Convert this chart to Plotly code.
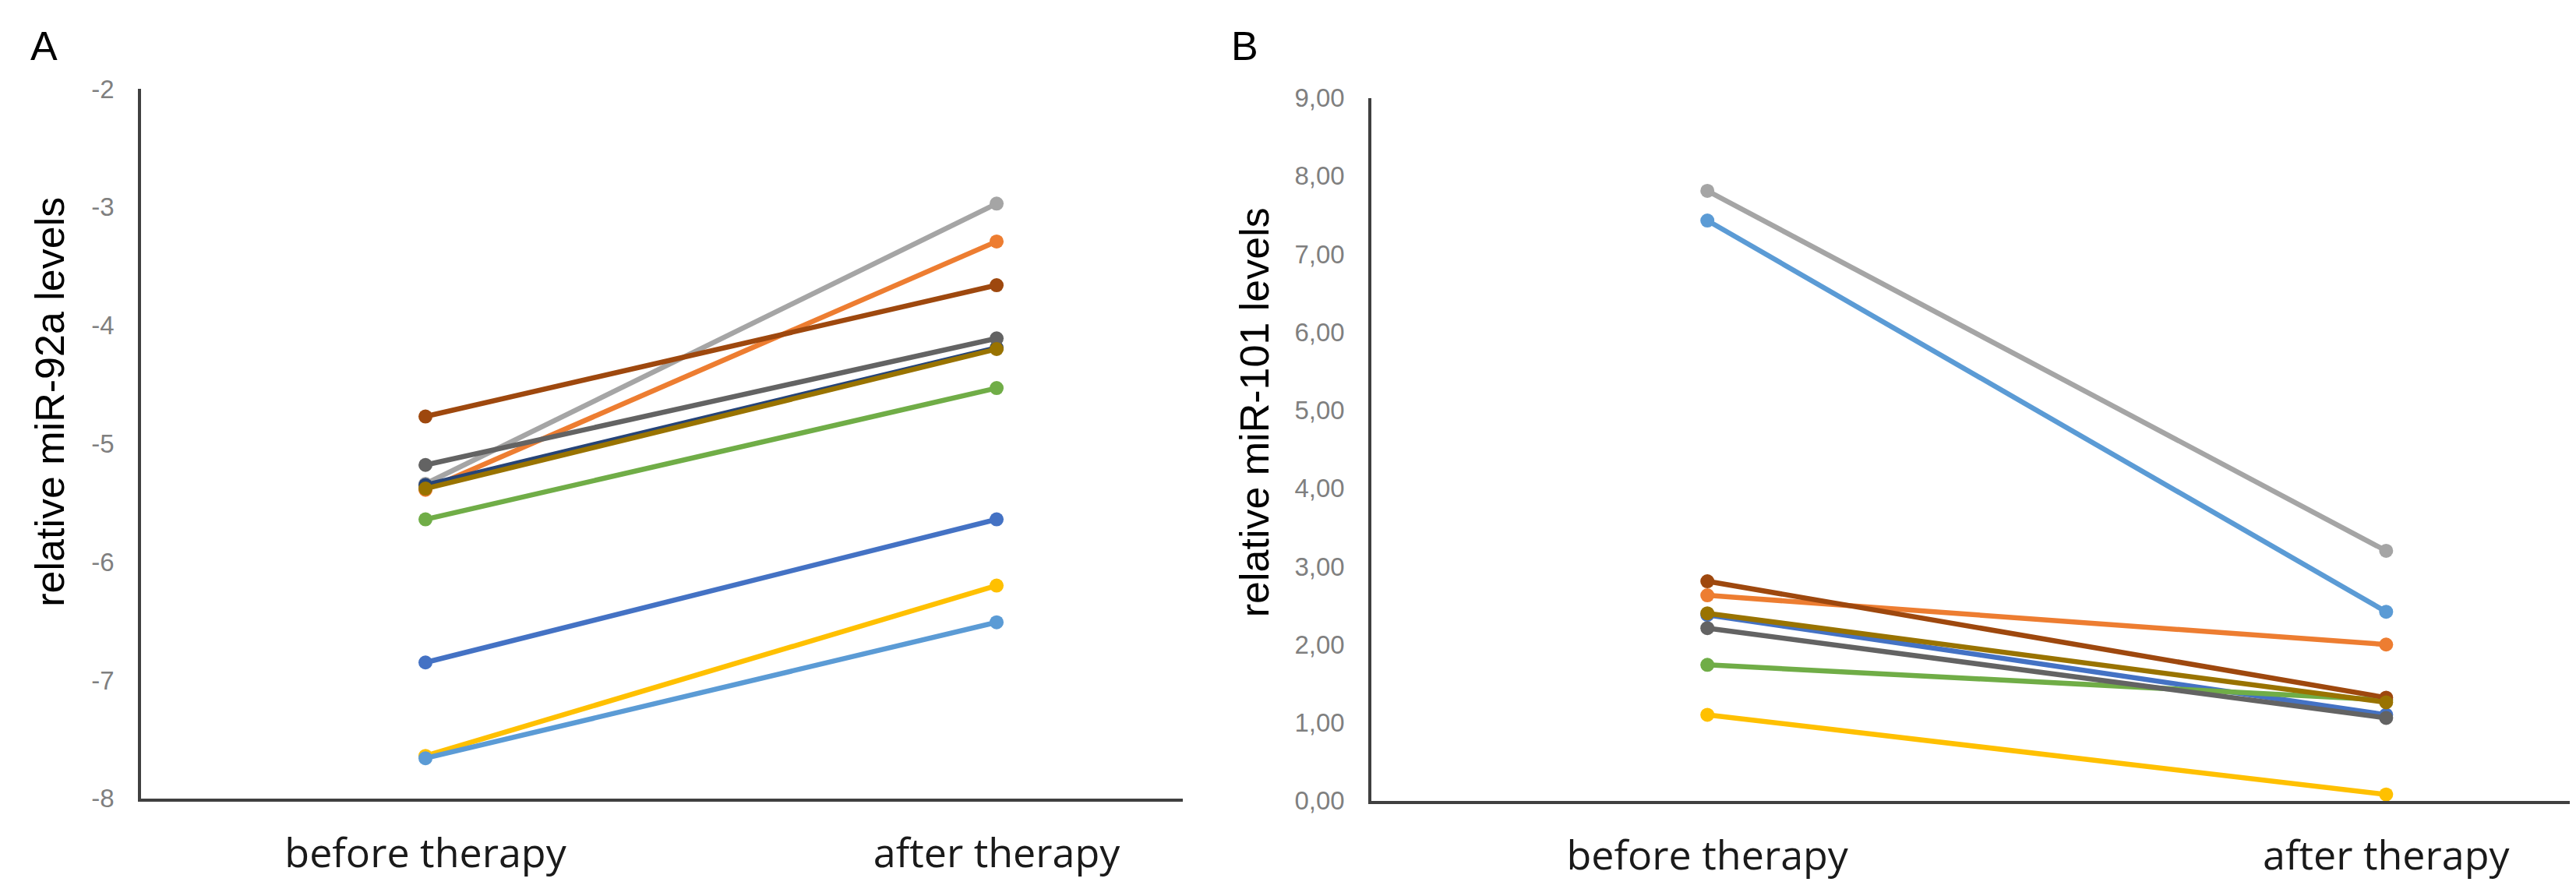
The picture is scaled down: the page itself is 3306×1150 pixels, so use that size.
import plotly.graph_objects as go

# ---------------- data ----------------
categories = ["before therapy", "after therapy"]

# Panel A: relative miR-92a levels (10 patients)
a_colors = ["#4472C4", "#ED7D31", "#A5A5A5", "#FFC000", "#5B9BD5",
            "#70AD47", "#264478", "#9E480E", "#636363", "#997300"]
a_before = [-6.85, -5.39, -5.34, -7.64, -7.66, -5.64, -5.35, -4.77, -5.18, -5.38]
a_after  = [-5.64, -3.29, -2.97, -6.20, -6.51, -4.53, -4.19, -3.66, -4.11, -4.20]

# Panel B: relative miR-101 levels (9 patients)
b_colors = ["#4472C4", "#ED7D31", "#A5A5A5", "#FFC000", "#5B9BD5",
            "#70AD47", "#9E480E", "#636363", "#997300"]
b_before = [2.38, 2.63, 7.81, 1.10, 7.43, 1.74, 2.81, 2.21, 2.40]
b_after  = [1.10, 2.00, 3.20, 0.08, 2.42, 1.29, 1.32, 1.06, 1.26]

a_tickvals = [-8, -7, -6, -5, -4, -3, -2]
a_ticktext = ["-8", "-7", "-6", "-5", "-4", "-3", "-2"]
b_tickvals = [0, 1, 2, 3, 4, 5, 6, 7, 8, 9]
b_ticktext = ["0,00", "1,00", "2,00", "3,00", "4,00", "5,00", "6,00", "7,00", "8,00", "9,00"]

a_title = "relative miR-92a levels"
b_title = "relative miR-101 levels"

# ---------------- figure ----------------
W, H = 3306, 1150
fig = go.Figure()
xpos = list(range(len(categories)))

for c, y0, y1 in zip(a_colors, a_before, a_after):
    fig.add_trace(go.Scatter(x=xpos, y=[y0, y1], mode="lines+markers",
                             line=dict(color=c, width=6.5),
                             marker=dict(color=c, size=18),
                             xaxis="x", yaxis="y", showlegend=False,
                             cliponaxis=False))

for c, y0, y1 in zip(b_colors, b_before, b_after):
    fig.add_trace(go.Scatter(x=xpos, y=[y0, y1], mode="lines+markers",
                             line=dict(color=c, width=6.5),
                             marker=dict(color=c, size=18),
                             xaxis="x2", yaxis="y2", showlegend=False,
                             cliponaxis=False))

axis_line = dict(showline=True, linecolor="#404040", linewidth=3.5,
                 showgrid=False, zeroline=False, ticks="")
xtick_font = dict(family="Open Sans", size=52, color="#1a1a1a")
ytick_font = dict(family="Liberation Sans, Arial", size=33, color="#7f7f7f")
title_font = dict(family="Liberation Sans, Arial", size=52, color="#000000")

fig.update_layout(
    width=W, height=H,
    margin=dict(l=0, r=0, t=0, b=0),
    paper_bgcolor="white", plot_bgcolor="white",
    xaxis=dict(domain=[173 / W, 1510 / W], range=[-0.498, 1.326],
               tickvals=xpos, ticktext=categories, tickfont=xtick_font,
               ticklabelstandoff=22, anchor="y", **axis_line),
    yaxis=dict(domain=[1 - 1032 / H, 1 - 91 / H], range=[-8, -2],
               tickvals=a_tickvals, ticktext=a_ticktext, tickfont=ytick_font,
               ticklabelstandoff=24, anchor="x", **axis_line),
    xaxis2=dict(domain=[1752 / W, 3293 / W], range=[-0.495, 1.274],
                tickvals=xpos, ticktext=categories, tickfont=xtick_font,
                ticklabelstandoff=22, anchor="y2", **axis_line),
    yaxis2=dict(domain=[1 - 1035 / H, 1 - 103 / H], range=[0, 9],
                tickvals=b_tickvals, ticktext=b_ticktext, tickfont=ytick_font,
                ticklabelstandoff=24, anchor="x2", **axis_line),
    annotations=[
        dict(text=a_title, xref="paper", yref="paper", x=56 / W, y=1 - 506 / H,
             textangle=-90, showarrow=False, xanchor="center", yanchor="middle",
             font=title_font),
        dict(text=b_title, xref="paper", yref="paper", x=1602 / W, y=1 - 520 / H,
             textangle=-90, showarrow=False, xanchor="center", yanchor="middle",
             font=title_font),
        dict(text="A", xref="paper", yref="paper", x=48 / W, y=1 - 34 / H,
             showarrow=False, xanchor="center", yanchor="middle",
             font=dict(family="Liberation Sans, Arial", size=52, color="#000000")),
        dict(text="B", xref="paper", yref="paper", x=1589 / W, y=1 - 34 / H,
             showarrow=False, xanchor="center", yanchor="middle",
             font=dict(family="Liberation Sans, Arial", size=52, color="#000000")),
    ],
)

fig.write_html("out.html")
